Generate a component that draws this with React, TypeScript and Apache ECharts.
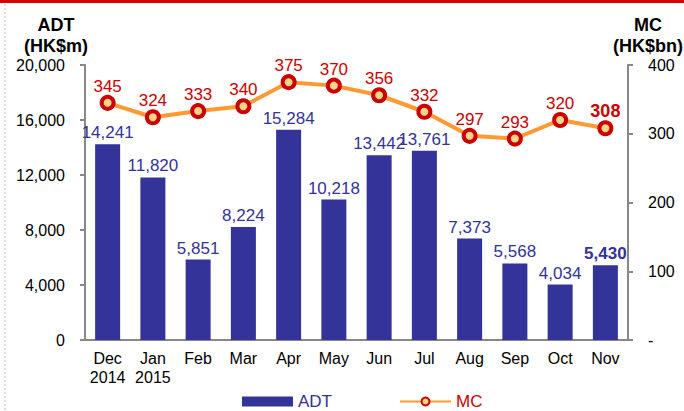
import React, { useEffect, useRef } from "react";
import * as echarts from "echarts";

const categories = ["Dec\n2014", "Jan\n2015", "Feb", "Mar", "Apr", "May", "Jun", "Jul", "Aug", "Sep", "Oct", "Nov"];
const adtValues = [14241, 11820, 5851, 8224, 15284, 10218, 13442, 13761, 7373, 5568, 4034, 5430];
const mcValues = [345, 324, 333, 340, 375, 370, 356, 332, 297, 293, 320, 308];

const FONT = "Liberation Sans, Arial, sans-serif";
const BLUE = "#333399";
const RED = "#CC0000";
const ORANGE = "#FF9933";

export default function App() {
  const ref = useRef<HTMLDivElement>(null);
  useEffect(() => {
    if (!ref.current) return;
    const chart = echarts.init(ref.current, null, { renderer: "svg" });
    const last = adtValues.length - 1;
    chart.setOption({
      animation: false,
      backgroundColor: "#ffffff",
      textStyle: { fontFamily: FONT },
      graphic: [
        { type: "rect", left: 0, top: 0, shape: { width: 684, height: 3 }, style: { fill: "#D90000" } },
        { type: "line", shape: { x1: 5, y1: 4, x2: 5, y2: 411 }, style: { stroke: "#bbbbbb", lineWidth: 1, lineDash: [2, 2] } },
        {
          type: "text",
          x: 56,
          y: 14,
          style: { text: "ADT\n(HK$m)", fontSize: 18, fontWeight: "bold", fontFamily: FONT, fill: "#000", align: "center", lineHeight: 21 },
        },
        {
          type: "text",
          x: 648,
          y: 14,
          style: { text: "MC\n(HK$bn)", fontSize: 18, fontWeight: "bold", fontFamily: FONT, fill: "#000", align: "center", lineHeight: 21 },
        },
      ],
      grid: { left: 85, right: 56, top: 65, bottom: 71 },
      legend: {
        left: 242,
        top: 393,
        padding: 0,
        itemGap: 67,
        itemWidth: 51,
        itemHeight: 10,
        textStyle: { fontSize: 17, lineHeight: 17, fontFamily: FONT },
        data: [
          { name: "ADT", icon: "rect", textStyle: { color: BLUE } },
          { name: "MC", textStyle: { color: RED } },
        ],
      },
      xAxis: {
        type: "category",
        data: categories,
        axisLine: { lineStyle: { color: "#888", width: 2 } },
        axisTick: { lineStyle: { color: "#888", width: 2 }, length: 5 },
        axisLabel: { color: "#000", fontSize: 16, lineHeight: 19, margin: 9, interval: 0, fontFamily: FONT },
      },
      yAxis: [
        {
          type: "value",
          min: 0,
          max: 20000,
          interval: 4000,
          splitLine: { show: false },
          axisLine: { show: true, lineStyle: { color: "#888", width: 2 } },
          axisTick: { show: true, lineStyle: { color: "#888", width: 2 }, length: 5 },
          axisLabel: {
            color: "#000",
            fontSize: 16,
            margin: 20,
            fontFamily: FONT,
            formatter: (v: number) => v.toLocaleString("en-US"),
          },
        },
        {
          type: "value",
          min: 0,
          max: 400,
          interval: 100,
          splitLine: { show: false },
          axisLine: { show: true, lineStyle: { color: "#888", width: 2 } },
          axisTick: { show: true, lineStyle: { color: "#888", width: 2 }, length: 5 },
          axisLabel: {
            color: "#000",
            fontSize: 16,
            margin: 20,
            fontFamily: FONT,
            formatter: (v: number) => (v === 0 ? "-" : String(v)),
          },
        },
      ],
      series: [
        {
          name: "ADT",
          type: "bar",
          yAxisIndex: 0,
          barWidth: 25,
          itemStyle: { color: BLUE },
          data: adtValues.map((v, i) => ({
            value: v,
            label: i === last ? { fontWeight: "bold" } : undefined,
          })),
          label: {
            show: true,
            position: "top",
            distance: 3,
            color: BLUE,
            fontSize: 17,
            fontFamily: FONT,
            formatter: (p: any) => Number(p.value).toLocaleString("en-US"),
          },
        },
        {
          name: "MC",
          type: "line",
          yAxisIndex: 1,
          symbol: "circle",
          symbolSize: 12,
          lineStyle: { color: ORANGE, width: 4 },
          itemStyle: { color: "#F5D58A", borderColor: RED, borderWidth: 4 },
          data: mcValues.map((v, i) => ({
            value: v,
            label: i === last ? { fontWeight: "bold", fontSize: 18 } : undefined,
          })),
          label: {
            show: true,
            position: "top",
            distance: 0,
            color: RED,
            fontSize: 17,
            fontFamily: FONT,
          },
        },
      ],
    });
    return () => chart.dispose();
  }, []);
  return <div ref={ref} style={{ width: 684, height: 411, position: "fixed", left: 0, top: 0 }} />;
}
